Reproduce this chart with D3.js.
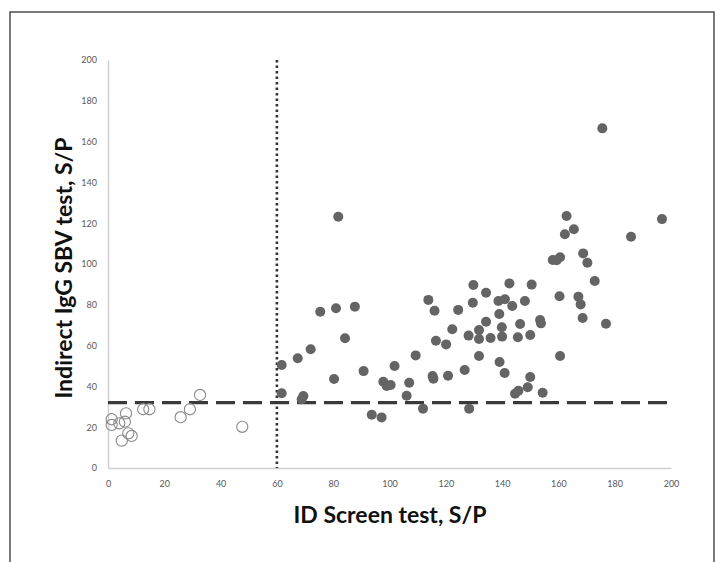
<!DOCTYPE html>
<html>
<head>
<meta charset="utf-8">
<script src="https://cdn.jsdelivr.net/npm/d3@7"></script>
<style>
  body { margin: 0; background: #fff; }
  .tick text { font-family: Lato, "Open Sans", sans-serif; font-size: 9px; fill: #595959; }
  .axisLabel { font-family: Lato, "Open Sans", sans-serif; font-weight: bold; font-size: 23px; fill: #111; }
</style>
</head>
<body>
<div class="chart"></div>
<script>
// open circles: below the 60 S/P cut-off
const openX = [1.3, 1.3, 6.4, 6.0, 4.0, 4.9, 7.2, 8.4, 12.5, 14.7, 25.8, 29.1, 32.7, 47.7];
const openY = [23.9, 21.1, 26.8, 22.7, 21.9, 13.4, 17.0, 15.7, 28.8, 28.8, 24.9, 28.8, 35.8, 20.2];

// filled circles: positive on ID Screen
const posX = [61.7, 61.7, 67.4, 69.4, 68.8, 72.0, 75.4, 81.0, 80.3, 84.2, 87.7, 90.8, 93.7, 97.2, 97.8, 99.0,
  100.4, 101.8, 106.1, 107.0, 109.3, 111.9, 113.8, 116.0, 116.5, 115.3, 115.6, 120.1, 120.8, 122.3, 124.4,
  126.7, 128.3, 128.1, 129.8, 129.6, 131.8, 131.8, 131.8, 134.3, 138.7, 141.0, 142.6, 143.6, 148.1, 150.5,
  139.0, 134.3, 135.9, 139.9, 140.0, 145.6, 146.4, 150.0, 153.5, 153.8, 139.1, 140.9, 150.0, 149.1, 144.6,
  145.8, 154.4, 160.4, 167.1, 167.9, 168.6, 160.6, 176.9, 172.9, 168.8, 170.3, 158.0, 159.4, 160.6, 162.3,
  165.5, 162.9, 185.8, 196.8, 175.6, 81.8];
const posY = [50.5, 36.6, 53.8, 35.3, 33.7, 58.2, 76.6, 78.3, 43.6, 63.6, 79.1, 47.5, 26.1, 24.8, 42.3, 40.2,
  40.7, 50.0, 35.4, 41.8, 55.2, 29.1, 82.4, 77.1, 62.4, 45.1, 43.8, 60.6, 45.2, 68.0, 77.5,
  48.0, 29.1, 64.9, 89.7, 81.0, 67.6, 63.2, 54.9, 85.9, 81.9, 82.7, 90.5, 79.4, 81.9, 89.9,
  75.5, 71.7, 63.7, 69.0, 64.4, 64.1, 70.6, 65.2, 72.5, 70.9, 52.0, 46.6, 44.6, 39.6, 36.4,
  37.9, 36.9, 84.2, 84.0, 80.2, 73.5, 54.9, 70.7, 91.7, 105.2, 100.6, 102.0, 101.8, 103.3, 114.6,
  117.0, 123.5, 113.4, 122.0, 166.5, 123.2];

const xTicks = [0, 20, 40, 60, 80, 100, 120, 140, 160, 180, 200];
const yTicks = [0, 20, 40, 60, 80, 100, 120, 140, 160, 180, 200];
const cutX = 60, cutY = 32;

const margin = ({top: 60, right: 49, bottom: 94, left: 108});
const width = 720 - margin.left - margin.right,
      height = 562 - margin.top - margin.bottom;

const xScale = d3.scaleLinear().domain([0, 200]).range([0, width]);
const yScale = d3.scaleLinear().domain([0, 200]).range([height, 0]);

const root = d3.select(".chart").append("svg")
    .attr("width", 720)
    .attr("height", 562);

// outer frame (runs off the bottom)
root.append("rect")
    .attr("x", 10).attr("y", 12)
    .attr("width", 704).attr("height", 580)
    .attr("fill", "none").attr("stroke", "#222").attr("stroke-width", 1.2);

const svg = root.append("g")
    .attr("transform", "translate(" + margin.left + "," + margin.top + ")");

const yAxis = d3.axisLeft(yScale).tickValues(yTicks).tickSize(0).tickPadding(11);
svg.append("g").attr("class", "axis y-axis").call(yAxis)
    .call(g => g.select(".domain").attr("stroke", "#d0d0d0").attr("stroke-width", 1.5));

const xAxis = d3.axisBottom(xScale).tickValues(xTicks).tickSize(0).tickPadding(13);
svg.append("g").attr("class", "axis x-axis")
    .attr("transform", "translate(0," + height + ")")
    .call(xAxis)
    .call(g => g.select(".domain").attr("stroke", "#d0d0d0").attr("stroke-width", 1.5));

// cut-off lines
svg.append("line")
    .attr("x1", xScale(0)).attr("x2", xScale(200))
    .attr("y1", yScale(cutY)).attr("y2", yScale(cutY))
    .attr("stroke", "#3a3a3a").attr("stroke-width", 3.2)
    .attr("stroke-dasharray", "19,8");

svg.append("line")
    .attr("x1", xScale(cutX)).attr("x2", xScale(cutX))
    .attr("y1", yScale(200)).attr("y2", yScale(0))
    .attr("stroke", "#333").attr("stroke-width", 2.6)
    .attr("stroke-dasharray", "2.5,3");

const openData = openX.map((x, i) => ({x: x, y: openY[i]}));
const posData = posX.map((x, i) => ({x: x, y: posY[i]}));

svg.selectAll(".open")
    .data(openData)
    .enter()
    .append("circle")
        .attr("class", "open")
        .attr("cx", d => xScale(d.x))
        .attr("cy", d => yScale(d.y))
        .attr("r", 5.6)
        .style("fill", "none")
        .style("stroke", "#8a8a8a")
        .style("stroke-width", 1.1);

svg.selectAll(".pos")
    .data(posData)
    .enter()
    .append("circle")
        .attr("class", "pos")
        .attr("cx", d => xScale(d.x))
        .attr("cy", d => yScale(d.y))
        .attr("r", 5)
        .style("fill", "#646464");

svg.append("text")
    .attr("class", "axisLabel")
    .attr("text-anchor", "middle")
    .attr("x", 282)
    .attr("y", height + 55)
    .text("ID Screen test, S/P");

svg.append("text")
    .attr("class", "axisLabel")
    .attr("text-anchor", "middle")
    .attr("x", -208)
    .attr("y", -36)
    .attr("transform", "rotate(-90)")
    .text("Indirect IgG SBV test, S/P");
</script>
</body>
</html>
